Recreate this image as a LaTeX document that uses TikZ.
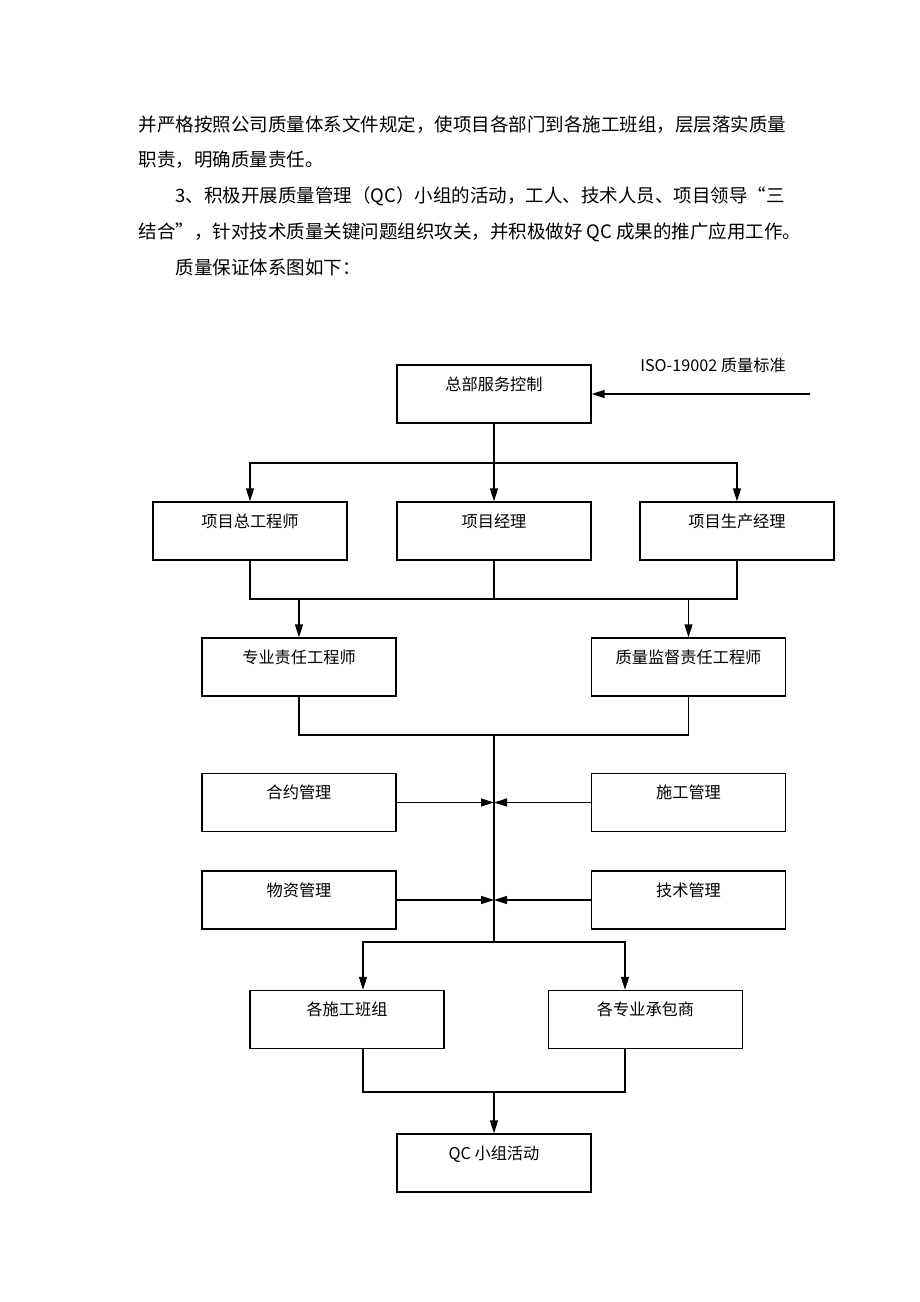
\documentclass[tikz,border=0pt]{standalone}
\usepackage{fontspec}
\setmainfont{Noto Sans CJK SC}
\usetikzlibrary{arrows.meta}

\begin{document}
\begin{tikzpicture}[x=1pt, y=-1pt, line width=1.3pt,
    >={Triangle[length=13pt,width=8pt]},
    box/.style={draw, minimum width=194pt, inner sep=0pt,
        text height=25pt, text depth=33pt, font=\fontsize{16.2}{18}\selectfont},
    para/.style={anchor=base west, inner sep=0pt, font=\fontsize{18.5}{22}\selectfont}]
\useasboundingbox (0,0) rectangle (920,1302);
% text above the chart
\node[para] (l1) at (138,131) {并严格按照公司质量体系文件规定，使项目各部门到各施工班组，层层落实质量};
\node[para] (l2) at (138,166) {职责，明确质量责任。};
\node[para] (l3) at (175,202) {3、积极开展质量管理（QC）小组的活动，工人、技术人员、项目领导“三};
\node[para] (l4) at (138,238) {结合”，针对技术质量关键问题组织攻关，并积极做好 QC 成果的推广应用工作。};
\node[para] (l5) at (175,274) {质量保证体系图如下：};

% top
\node[box] (hq) at (494,394) {总部服务控制};
\node[anchor=base, inner sep=0pt, font=\fontsize{16.2}{18}\selectfont] (iso) at (713,371) {ISO-19002 质量标准};
\coordinate (isoin) at (810,394);
\draw[->] (isoin) -- (hq.east);

% project level
\node[box] (chief) at (250,531) {项目总工程师};
\node[box] (pm) at (494,531) {项目经理};
\node[box] (prod) at (737,531) {项目生产经理};
\coordinate (s1) at (494,463);
\draw (hq.south) -- (s1);
\draw[->] (s1) -| (chief.north);
\draw[->] (s1) -| (prod.north);
\draw[->] (s1) -- (pm.north);

% engineers
\node[box] (spec) at (299,667) {专业责任工程师};
\node[box] (qsup) at (688.5,667) {质量监督责任工程师};
\coordinate (j2) at (494,599);
\draw (chief.south) |- (j2) -| (prod.south);
\draw (pm.south) -- (j2);
\draw[->] (spec.north |- j2) -- (spec.north);
\draw[->] (qsup.north |- j2) -- (qsup.north);

% management
\node[box] (contract) at (299,802.5) {合约管理};
\node[box] (construct) at (688.5,802.5) {施工管理};
\node[box] (material) at (299,900) {物资管理};
\node[box] (tech) at (688.5,900) {技术管理};
\coordinate (j3) at (494,735);
\coordinate (s6) at (494,942);
\draw (spec.south) |- (j3) -| (qsup.south);
\draw (j3) -- (s6);
\draw[->] (contract.east) -- (contract.east -| j3);
\draw[->] (construct.west) -- (construct.west -| j3);
\draw[->] (material.east) -- (material.east -| j3);
\draw[->] (tech.west) -- (tech.west -| j3);

% site
\node[box] (teams) at (347,1019.5) {各施工班组};
\node[box] (subs) at (645.5,1019.5) {各专业承包商};
\node[box] (qc) at (494,1163) {QC 小组活动};
\coordinate (j6) at (494,1092);
\draw[->] (s6) -| ([xshift=16pt]teams.north);
\draw[->] (s6) -| ([xshift=-20.5pt]subs.north);
\draw ([xshift=16pt]teams.south) |- (j6) -| ([xshift=-20.5pt]subs.south);
\draw[->] (j6) -- (qc.north);
\end{tikzpicture}
\end{document}
